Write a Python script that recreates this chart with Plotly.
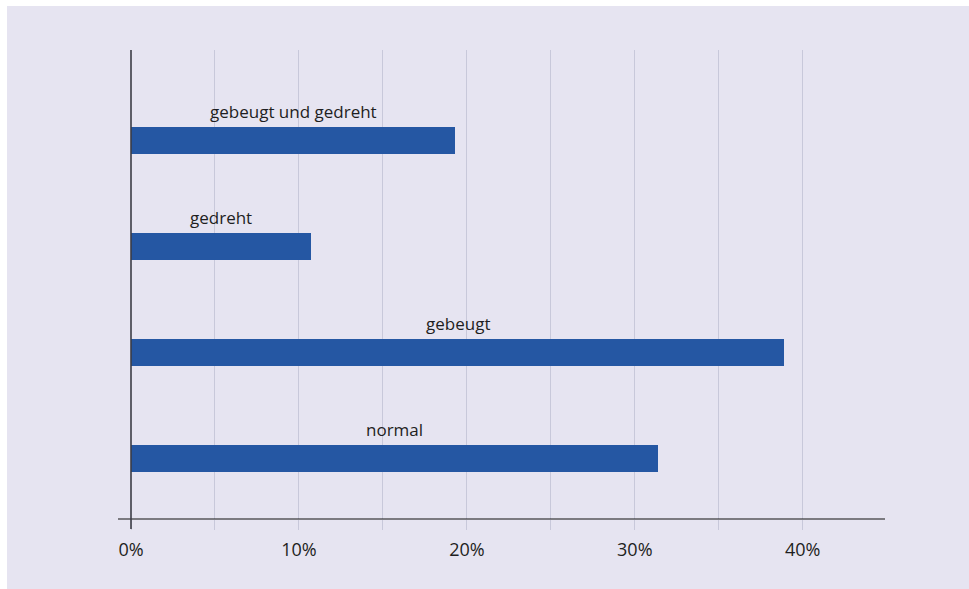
import plotly.graph_objects as go

# Bar categories (bottom to top) and their shares in percent
categories = ["normal", "gebeugt", "gedreht", "gebeugt und gedreht"]
shares = [31.4, 38.9, 10.7, 19.3]

# Axis ticks
tick_values = [0, 5, 10, 15, 20, 25, 30, 35, 40]
tick_labels = ["0%", "", "10%", "", "20%", "", "30%", "", "40%"]

BG = "#e6e4f1"
BAR = "#2557a3"
GRID = "#c8c8da"
TEXT = "#1e1e22"
FONT = "Open Sans"

W, H = 969, 589
L, R, T, B = 131, 84, 50, 70
pw, ph = W - L - R, H - T - B

ypos = list(range(len(categories)))

fig = go.Figure(
    go.Bar(
        x=shares,
        y=ypos,
        orientation="h",
        marker=dict(color=BAR, line=dict(width=0)),
        width=0.255,
        hoverinfo="skip",
    )
)

# category labels centred above each bar
for i, (name, v) in enumerate(zip(categories, shares)):
    fig.add_annotation(
        x=v / 2, y=i, xref="x", yref="y",
        text=name, showarrow=False,
        xanchor="center", yanchor="middle", yshift=29,
        font=dict(family=FONT, size=17, color=TEXT),
    )

shapes = [
    # panel background, running off the right and bottom edges
    dict(type="rect", xref="paper", yref="paper",
         x0=(7 - L) / pw, x1=(W - L + 30) / pw,
         y0=-(B + 30) / ph, y1=(ph + T - 6) / ph,
         fillcolor=BG, line=dict(width=0), layer="below"),
    # baseline (x axis)
    dict(type="line", xref="paper", yref="paper",
         x0=-13 / pw, x1=1, y0=0, y1=0,
         line=dict(color="#111111", width=1.2), layer="above"),
    # vertical axis line, running slightly below the baseline
    dict(type="line", xref="paper", yref="paper",
         x0=0, x1=0, y0=-10 / ph, y1=1,
         line=dict(color="#3c3c46", width=1.6), layer="above"),
]

fig.update_layout(
    width=W, height=H,
    margin=dict(l=L, r=R, t=T, b=B, pad=0),
    paper_bgcolor=BG,
    plot_bgcolor="rgba(0,0,0,0)",
    showlegend=False,
    bargap=0,
    shapes=shapes,
    xaxis=dict(
        range=[0, 44.9],
        tickvals=tick_values, ticktext=tick_labels,
        showgrid=True, gridcolor=GRID, gridwidth=1.2,
        zeroline=False, showline=False,
        ticks="outside", ticklen=10, tickcolor=GRID, tickwidth=1.2,
        ticklabelstandoff=4,
        tickfont=dict(family=FONT, size=18, color=TEXT),
        fixedrange=True,
    ),
    yaxis=dict(
        range=[-0.575, 3.85],
        showticklabels=False, showgrid=False, zeroline=False,
        showline=False, ticks="",
        fixedrange=True,
    ),
)

# white strip along the top and left edges of the page
fig.add_shape(type="rect", xref="paper", yref="paper",
              x0=-L / pw - 0.05, x1=(7 - L) / pw,
              y0=-(B + 30) / ph, y1=(ph + T + 30) / ph,
              fillcolor="white", line=dict(width=0), layer="below")
fig.add_shape(type="rect", xref="paper", yref="paper",
              x0=-L / pw - 0.05, x1=(W - L + 30) / pw,
              y0=(ph + T - 6) / ph, y1=(ph + T + 30) / ph,
              fillcolor="white", line=dict(width=0), layer="below")

fig.write_html("out.html", config={"displayModeBar": False})
